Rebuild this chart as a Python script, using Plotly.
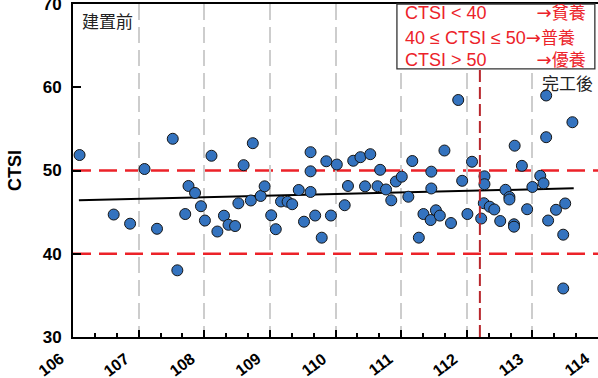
import plotly.graph_objects as go

# ---------------- data ----------------
years = [106.10, 107.09, 106.62, 106.87, 107.28, 107.52, 107.59, 107.71, 107.76, 107.86,
         107.95, 108.01, 108.11, 108.20, 108.30, 108.37, 108.47, 108.52, 108.60, 108.71,
         108.74, 108.86, 108.92, 109.02, 109.09, 109.17, 109.27, 109.34, 109.44, 109.52,
         109.62, 109.62, 109.62, 109.69, 109.79, 109.86, 109.93, 110.02, 110.14, 110.19,
         110.27, 110.38, 110.53, 110.45, 110.64, 110.68, 110.77, 110.85, 110.92, 111.01,
         111.11, 111.17, 111.27, 111.34, 111.46, 111.46, 111.45, 111.53, 111.59, 111.66,
         111.76, 111.87, 111.93, 112.01, 112.08, 112.22, 112.27, 112.27, 112.26, 112.35,
         112.42, 112.51, 112.59, 112.65, 112.65, 112.72, 112.72, 112.73, 112.84, 112.92,
         113.00, 113.12, 113.17, 113.21, 113.21, 113.24, 113.36, 113.50, 113.61, 113.47,
         113.47]
ctsi = [51.86, 50.18, 44.71, 43.61, 43.00, 53.81, 38.01, 44.77, 48.14, 47.30,
        45.71, 43.99, 51.77, 42.67, 44.57, 43.48, 43.33, 46.06, 50.64, 46.40,
        53.28, 46.94, 48.10, 44.62, 42.95, 46.28, 46.25, 45.95, 47.66, 43.85,
        52.20, 49.90, 47.42, 44.59, 41.93, 51.11, 44.59, 50.72, 45.83, 48.14,
        51.17, 51.60, 51.96, 48.10, 48.11, 50.08, 47.72, 46.42, 48.68, 49.26,
        46.85, 51.14, 41.93, 44.77, 49.86, 47.84, 44.05, 45.22, 44.58, 52.40,
        43.69, 58.47, 48.76, 44.77, 51.05, 44.23, 49.30, 48.35, 46.07, 45.65,
        45.32, 43.93, 47.68, 46.82, 46.52, 43.54, 43.25, 52.98, 50.56, 45.35,
        48.02, 49.36, 48.46, 59.01, 54.00, 43.99, 45.28, 46.04, 55.80, 42.29,
        35.83]

trend_x = [106.09, 113.63]
trend_y = [46.42, 47.86]

threshold_levels = [40, 50]
completion_year = 112.2
completion_top = 62.2

x_ticks = [106, 107, 108, 109, 110, 111, 112, 113, 114]
x_labels = ["106", "107", "108", "109", "110", "111", "112", "113", "114"]
y_ticks = [30, 40, 50, 60, 70]

legend_left = ["CTSI < 40", "40 ≤ CTSI ≤ 50", "CTSI > 50"]
legend_gap = [10, 0, 10]
legend_right = ["貧養", "普養", "優養"]

# ---------------- figure ----------------
LAT = "Liberation Sans, Arial, sans-serif"
RED = "#ec2229"

fig = go.Figure()

fig.add_trace(go.Scatter(
    x=trend_x, y=trend_y, mode="lines",
    line=dict(color="black", width=2), hoverinfo="skip"))

fig.add_trace(go.Scatter(
    x=years, y=ctsi, mode="markers",
    marker=dict(size=11, color="#3473bf", line=dict(color="#151515", width=1))))

for lv in threshold_levels:
    fig.add_shape(type="line", xref="x domain", yref="y", x0=0, x1=1, y0=lv, y1=lv,
                  line=dict(color=RED, width=2.5, dash="18px,8px"), layer="below")

fig.add_shape(type="line", xref="x", yref="y", x0=completion_year, x1=completion_year,
              y0=30, y1=completion_top,
              line=dict(color="#b8272d", width=2, dash="12px,5px"))

# legend box
fig.add_shape(type="rect", xref="paper", yref="paper", x0=0.617, x1=0.994, y0=0.805, y1=1.0,
              line=dict(color="#333333", width=1.3), fillcolor="white", layer="above")

ys = [0.9775, 0.9024, 0.8378]
for left, gap, right, yy in zip(legend_left, legend_gap, legend_right, ys):
    txt = (left + "\u00a0" * gap
           + '<span style="font-family:DejaVu Sans">→</span>'
           + '<span style="font-family:Noto Sans CJK TC;font-size:17px">' + right + "</span>")
    fig.add_annotation(xref="paper", yref="paper", x=0.6286, y=yy, text=txt, showarrow=False,
                       xanchor="left", yanchor="middle", font=dict(family=LAT, size=18, color=RED))

fig.add_annotation(xref="paper", yref="paper", x=0.0133, y=0.949, text="建置前", showarrow=False,
                   xanchor="left", yanchor="middle",
                   font=dict(family="Noto Sans CJK TC", size=17, color="#222222"))
fig.add_annotation(xref="paper", yref="paper", x=0.994, y=0.7643, text="完工後", showarrow=False,
                   xanchor="right", yanchor="middle",
                   font=dict(family="Noto Sans CJK TC", size=17, color="#222222"))

# rotated x tick labels
for v, lab in zip(x_ticks, x_labels):
    fig.add_annotation(xref="x", yref="paper", x=v, y=0, text=lab, showarrow=False,
                       textangle=-37, xanchor="right", yanchor="top", xshift=-3, yshift=-10,
                       font=dict(family=LAT, size=16, weight="bold", color="black"))

fig.update_layout(
    width=598, height=378,
    margin=dict(l=73, r=0, t=4, b=41),
    plot_bgcolor="white", paper_bgcolor="white",
    showlegend=False,
    font=dict(family=LAT, color="black"),
    xaxis=dict(
        range=[106, 114], tickmode="array", tickvals=x_ticks, showticklabels=False,
        ticks="inside", ticklen=7, tickwidth=2, tickcolor="black",
        showline=True, linewidth=2, linecolor="black", mirror=True,
        showgrid=True, gridcolor="#cdcdcd", gridwidth=1.5, griddash="16px,7px",
        zeroline=False, automargin=False,
        minor=dict(tickmode="array", tickvals=[106 + i / 3 for i in range(25) if i % 3],
                   ticks="inside", ticklen=4, tickwidth=1.5, tickcolor="black", showgrid=False),
    ),
    yaxis=dict(
        range=[30, 70], tickmode="array", tickvals=y_ticks,
        tickfont=dict(family=LAT, size=17, weight="bold", color="black"),
        ticks="inside", ticklen=8, tickwidth=2, tickcolor="black",
        showline=True, linewidth=2, linecolor="black",
        showgrid=False, zeroline=False, automargin=False, ticklabelstandoff=6,
        ticklabeloverflow="allow",
        title=dict(text="CTSI", font=dict(family=LAT, size=18, weight="bold", color="black"),
                   standoff=16),
    ),
)

fig.write_html("out.html")
